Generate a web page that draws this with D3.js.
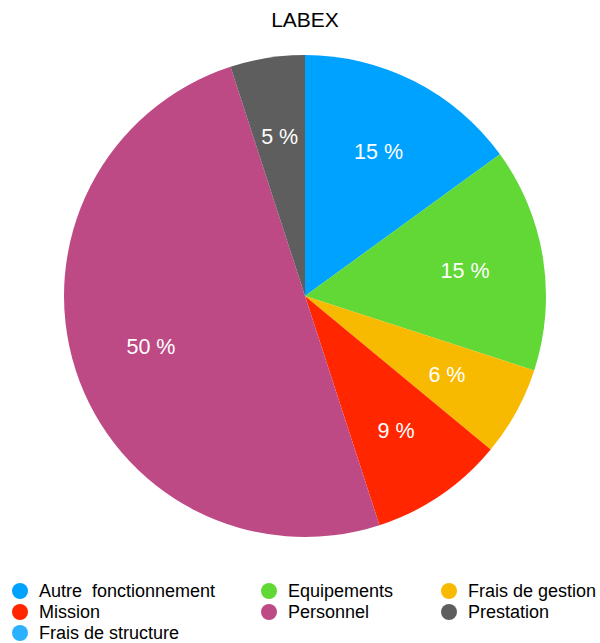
<!DOCTYPE html>
<html>
<head>
<meta charset="utf-8">
<script src="https://cdn.jsdelivr.net/npm/d3@7"></script>
<style>
  html, body { margin: 0; padding: 0; background: #fff; }
  svg { display: block; font-family: "Liberation Sans", Arial, Helvetica, sans-serif; }
</style>
</head>
<body>
<svg id="chart" width="600" height="643"></svg>
<script>
// Budget breakdown, in percent
const categories = ["Autre  fonctionnement", "Equipements", "Frais de gestion", "Mission", "Personnel", "Prestation", "Frais de structure"];
const values = [15, 15, 6, 9, 50, 5, 0];
const colors = ["#00A2FF", "#61D836", "#F8BA00", "#FF2600", "#BE4A85", "#5E5E5E", "#2CB1FF"];
const title = "LABEX";

const svg = d3.select("#chart");
const cx = 305, cy = 296, R = 241, labelR = 162;

svg.append("text")
  .attr("x", 305).attr("y", 27)
  .attr("text-anchor", "middle")
  .attr("font-size", 21)
  .attr("fill", "#000")
  .text(title);

const data = categories.map((c, i) => ({ name: c, value: values[i], color: colors[i] }));

const pie = d3.pie().sort(null).value(d => d.value);
const arcs = pie(data);
const arc = d3.arc().innerRadius(0).outerRadius(R);
const labelArc = d3.arc().innerRadius(labelR).outerRadius(labelR);

const g = svg.append("g").attr("transform", `translate(${cx},${cy})`);

g.selectAll("path")
  .data(arcs.filter(a => a.data.value > 0))
  .join("path")
  .attr("d", arc)
  .attr("fill", d => d.data.color);

g.selectAll("text.val")
  .data(arcs.filter(a => a.data.value > 0))
  .join("text")
  .attr("class", "val")
  .attr("transform", d => `translate(${labelArc.centroid(d)})`)
  .attr("text-anchor", "middle")
  .attr("dy", "0.35em")
  .attr("font-size", 21.5)
  .attr("fill", "#fff")
  .text(d => `${d.data.value} %`);

// Legend: three columns, filled row by row
const colX = [20, 269, 449];
const rowY = [591, 612, 633];
const legend = svg.append("g");
const items = legend.selectAll("g")
  .data(data)
  .join("g")
  .attr("transform", (d, i) => `translate(${colX[i % 3]},${rowY[Math.floor(i / 3)]})`);
items.append("circle").attr("r", 8).attr("fill", d => d.color);
items.append("text")
  .attr("x", 19)
  .attr("dy", "0.36em")
  .attr("font-size", 18)
  .attr("fill", "#000")
  .attr("xml:space", "preserve")
  .style("white-space", "pre")
  .text(d => d.name);
</script>
</body>
</html>
